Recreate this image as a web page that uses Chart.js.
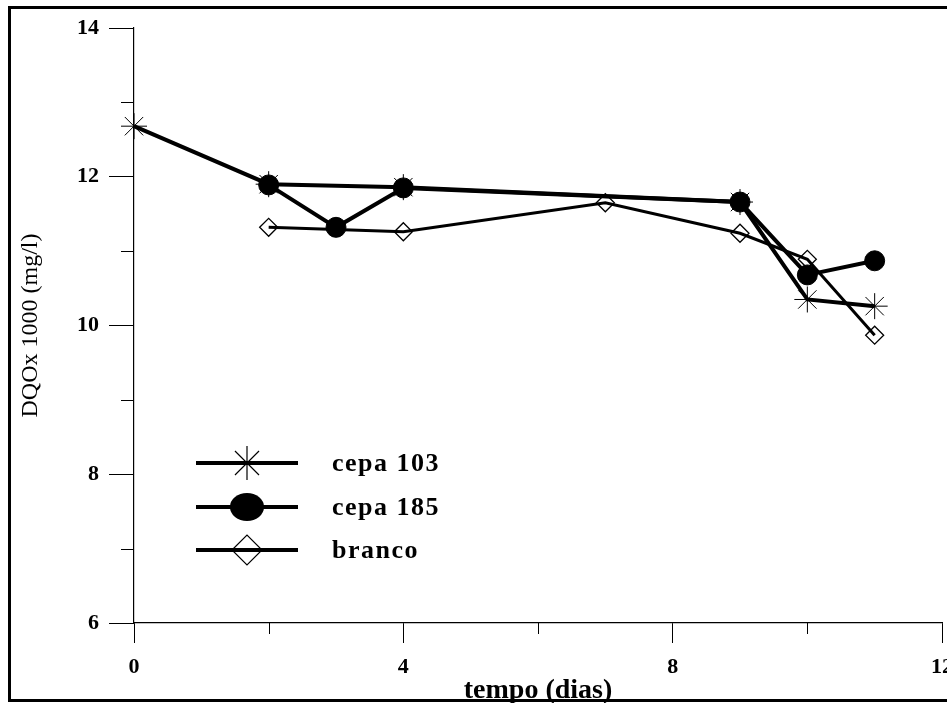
<!DOCTYPE html>
<html>
<head>
<meta charset="utf-8">
<script src="https://cdn.jsdelivr.net/npm/chart.js@4.4.1/dist/chart.umd.min.js"></script>
<style>
  html, body { margin: 0; padding: 0; background: #fff; overflow: hidden; }
  #frame {
    position: absolute; left: 8px; top: 6px;
    width: 960px; height: 690px;
    border: 3px solid #000;
  }
  #chart { position: absolute; left: 0; top: 0; }
</style>
</head>
<body>
<div id="frame"></div>
<canvas id="chart" width="947" height="703"></canvas>
<script>
// Data (DQO x 1000, mg/l, over days)
const cepa103Days = [0, 2, 4, 9, 10, 11];
const cepa103Dqo  = [12.68, 11.90, 11.86, 11.66, 10.35, 10.26];

const cepa185Days = [2, 3, 4, 9, 10, 11];
const cepa185Dqo  = [11.89, 11.32, 11.85, 11.66, 10.68, 10.87];

const brancoDays = [2, 4, 7, 9, 10, 11];
const brancoDqo  = [11.32, 11.26, 11.65, 11.24, 10.89, 9.87];

const xMajorTicks = [0, 4, 8, 12];
const xMinorTicks = [2, 6, 10];
const yMajorTicks = [6, 8, 10, 12, 14];
const yMinorTicks = [7, 9, 11, 13];

const seriesNames = ['cepa 103', 'cepa 185', 'branco'];

const SERIF = '"Liberation Serif", "Times New Roman", serif';

const toPoints = (xs, ys) => xs.map((x, i) => ({ x, y: ys[i] }));

// Minor tick marks on both axes
const minorTicks = {
    id: 'minorTicks',
    afterDraw(chart) {
        const { ctx, scales: { x, y } } = chart;
        ctx.save();
        ctx.strokeStyle = '#000';
        ctx.lineWidth = 1;
        ctx.beginPath();
        xMinorTicks.forEach(v => {
            const px = Math.round(x.getPixelForValue(v)) + 0.5;
            ctx.moveTo(px, x.top);
            ctx.lineTo(px, x.top + 11);
        });
        yMinorTicks.forEach(v => {
            const py = Math.round(y.getPixelForValue(v)) + 0.5;
            ctx.moveTo(y.right - 13, py);
            ctx.lineTo(y.right, py);
        });
        ctx.stroke();
        ctx.restore();
    }
};

// Legend drawn inside the plot area, lower left
const insideLegend = {
    id: 'insideLegend',
    afterDraw(chart) {
        const { ctx, chartArea } = chart;
        const x0 = chartArea.left + 62;
        const x1 = chartArea.left + 164;
        const rows = [chartArea.top + 435, chartArea.top + 479, chartArea.top + 522];
        const legendRadius = [17, 16, 15];
        ctx.save();
        chart.data.datasets.forEach((ds, i) => {
            const yy = rows[i];
            ctx.strokeStyle = '#000';
            ctx.lineWidth = 4;
            ctx.beginPath();
            ctx.moveTo(x0, yy);
            ctx.lineTo(x1, yy);
            ctx.stroke();

            const mx = (x0 + x1) / 2;
            ctx.fillStyle = ds.pointBackgroundColor;
            ctx.strokeStyle = '#000';
            ctx.lineWidth = 1.2;
            if (ds.pointStyle === 'circle') {
                ctx.beginPath();
                ctx.ellipse(mx, yy, 17, 14, 0, 0, Math.PI * 2);
                ctx.fill();
            } else {
                Chart.helpers.drawPoint(ctx, {
                    pointStyle: ds.pointStyle,
                    radius: legendRadius[i],
                    rotation: 0,
                    borderWidth: 1.2
                }, mx, yy);
            }

            ctx.fillStyle = '#000';
            ctx.font = 'bold 26px ' + SERIF;
            ctx.letterSpacing = '1.5px';
            ctx.textAlign = 'left';
            ctx.textBaseline = 'middle';
            ctx.fillText(ds.label, chartArea.left + 198, yy + 1);
            ctx.letterSpacing = '0px';
        });
        ctx.restore();
    }
};

const ctx = document.getElementById('chart').getContext('2d');

new Chart(ctx, {
    type: 'line',
    data: {
        datasets: [
            {
                label: seriesNames[0],
                data: toPoints(cepa103Days, cepa103Dqo),
                borderColor: '#000',
                borderWidth: 4,
                pointStyle: 'star',
                pointRadius: 13,
                pointBorderWidth: 1,
                pointBorderColor: '#000',
                pointBackgroundColor: '#000',
                clip: false,
                order: 2
            },
            {
                label: seriesNames[1],
                data: toPoints(cepa185Days, cepa185Dqo),
                borderColor: '#000',
                borderWidth: 4,
                pointStyle: 'circle',
                pointRadius: 10,
                pointBorderWidth: 1,
                pointBorderColor: '#000',
                pointBackgroundColor: '#000',
                clip: false,
                order: 1
            },
            {
                label: seriesNames[2],
                data: toPoints(brancoDays, brancoDqo),
                borderColor: '#000',
                borderWidth: 3,
                pointStyle: 'rectRot',
                pointRadius: 9,
                pointBorderWidth: 1.3,
                pointBorderColor: '#000',
                pointBackgroundColor: 'rgba(255,255,255,0)',
                clip: false,
                order: 3
            }
        ]
    },
    options: {
        responsive: false,
        animation: false,
        devicePixelRatio: 1,
        layout: { autoPadding: false, padding: { top: 28, right: 5, left: 0, bottom: 0 } },
        plugins: {
            legend: { display: false },
            tooltip: { enabled: false }
        },
        scales: {
            x: {
                type: 'linear',
                min: 0,
                max: 12,
                afterBuildTicks: s => { s.ticks = xMajorTicks.map(v => ({ value: v })); },
                afterFit: s => { s.height = 80; s.paddingRight = 0; s.paddingLeft = 0; },
                grid: { drawOnChartArea: false, drawTicks: true, tickLength: 20, color: '#000', lineWidth: 1 },
                border: { display: true, color: '#000', width: 1.2 },
                ticks: {
                    color: '#000',
                    padding: 11,
                    maxRotation: 0,
                    font: { family: SERIF, size: 22, weight: 'bold' }
                },
                title: {
                    display: true,
                    text: 'tempo (dias)',
                    color: '#000',
                    font: { family: SERIF, size: 28, weight: 'bold', lineHeight: 0.9 },
                    padding: { top: 0, bottom: 0 }
                }
            },
            y: {
                min: 6,
                max: 14,
                afterBuildTicks: s => { s.ticks = yMajorTicks.map(v => ({ value: v })); },
                afterFit: s => { s.width = 134; },
                grid: { drawOnChartArea: false, drawTicks: true, tickLength: 25, color: '#000', lineWidth: 1 },
                border: { display: true, color: '#000', width: 1.2 },
                ticks: {
                    color: '#000',
                    padding: 10,
                    font: { family: SERIF, size: 22, weight: 'bold' }
                },
                title: {
                    display: true,
                    text: 'DQOx 1000 (mg/l)',
                    color: '#000',
                    font: { family: SERIF, size: 24 },
                    padding: { top: 16, bottom: 0 }
                }
            }
        }
    },
    plugins: [minorTicks, insideLegend]
});
</script>
</body>
</html>
